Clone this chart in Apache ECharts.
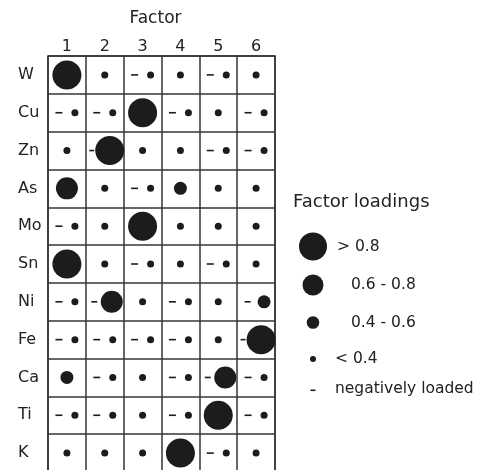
<!DOCTYPE html>
<html>
<head>
<meta charset="utf-8">
<style>
  html, body { margin: 0; padding: 0; background: #fff; }
  #chart { width: 487px; height: 470px; }
</style>
<script src="https://cdn.jsdelivr.net/npm/echarts@6/dist/echarts.min.js"></script>
</head>
<body>
<div id="chart"></div>
<script>
// Factors (columns) and elements (rows)
const factors = ['1', '2', '3', '4', '5', '6'];
const elements = ['W', 'Cu', 'Zn', 'As', 'Mo', 'Sn', 'Ni', 'Fe', 'Ca', 'Ti', 'K'];

// Loading class per factor: 1 = < 0.4, 2 = 0.4-0.6, 3 = 0.6-0.8, 4 = > 0.8
// a negative sign marks a negatively loaded element
const rowW  = [ 4,  1, -1,  1, -1,  1];
const rowCu = [-1, -1,  4, -1,  1, -1];
const rowZn = [ 1, -4,  1,  1, -1, -1];
const rowAs = [ 3,  1, -1,  2,  1,  1];
const rowMo = [-1,  1,  4,  1,  1,  1];
const rowSn = [ 4,  1, -1,  1, -1,  1];
const rowNi = [-1, -3,  1, -1,  1, -2];
const rowFe = [-1, -1, -1, -1,  1, -4];
const rowCa = [ 2, -1,  1, -1, -3, -1];
const rowTi = [-1, -1,  1, -1,  4, -1];
const rowK  = [ 1,  1,  1,  4, -1,  1];
const loadingRows = [rowW, rowCu, rowZn, rowAs, rowMo, rowSn, rowNi, rowFe, rowCa, rowTi, rowK];

// Legend entries
const legendLabels = ['> 0.8', '0.6 - 0.8', '0.4 - 0.6', '< 0.4', 'negatively loaded'];

// Marker styling by class
const dotSize   = {1: 7, 2: 13, 3: 22, 4: 29};
const dotShift  = {1: 8, 2: 8, 3: 7, 4: 5};
const dashShift = {1: -8, 2: -8.5, 3: -10.5, 4: -13};
const dashLen   = {1: 7, 2: 6, 3: 6, 4: 5};

const ink = '#1c1c1c';
const lineCol = '#353535';
const font = 'DejaVu Sans';

const dots = [];
const dashes = [];
loadingRows.forEach((row, i) => {
  row.forEach((c, j) => {
    const k = Math.abs(c);
    const neg = c < 0;
    dots.push({
      value: [factors[j], elements[i], c],
      symbolSize: dotSize[k],
      symbolOffset: [neg ? dotShift[k] : 0, 0]
    });
    if (neg) {
      dashes.push({
        value: [factors[j], elements[i], c],
        symbolSize: [dashLen[k], 1.6],
        symbolOffset: [dashShift[k], 0]
      });
    }
  });
});

const chart = echarts.init(document.getElementById('chart'), null, {renderer: 'canvas'});

const legendX = 313;
const legendRows = [
  {y: 246.5, r: 14,  tx: 337},
  {y: 285,   r: 10.5, tx: 351},
  {y: 322.5, r: 6.3, tx: 351},
  {y: 359,   r: 3,   tx: 335}
];
const graphics = [{
  type: 'text',
  left: 293, top: 193,
  style: {text: 'Factor loadings', font: '18px ' + font, fill: '#222'}
}];
legendRows.forEach((r, idx) => {
  graphics.push({
    type: 'circle',
    shape: {cx: legendX, cy: r.y, r: r.r},
    style: {fill: ink}
  });
  graphics.push({
    type: 'text',
    x: r.tx, y: r.y,
    style: {text: legendLabels[idx], font: '15.5px ' + font, fill: '#222', textVerticalAlign: 'middle'}
  });
});
graphics.push({
  type: 'rect',
  shape: {x: legendX - 2.5, y: 389.5, width: 5, height: 1.6},
  style: {fill: ink}
});
graphics.push({
  type: 'text',
  x: 335, y: 389,
  style: {text: legendLabels[4], font: '15.5px ' + font, fill: '#222', textVerticalAlign: 'middle'}
});

chart.setOption({
  animation: false,
  backgroundColor: '#fff',
  textStyle: {fontFamily: font},
  grid: {
    left: 48, top: 56, width: 227, height: 416,
    outerBoundsMode: 'none',
    containLabel: false,
    show: true, borderColor: lineCol, borderWidth: 1.5, backgroundColor: 'transparent'
  },
  xAxis: {
    type: 'category',
    data: factors,
    position: 'top',
    name: 'Factor',
    nameLocation: 'middle',
    nameGap: 29,
    nameTextStyle: {fontSize: 17, color: '#222', fontFamily: font, padding: [0, 12, 0, 0]},
    axisLine: {show: false},
    axisTick: {show: false},
    axisLabel: {fontSize: 16, color: '#222', margin: 1, fontFamily: font},
    splitLine: {show: true, interval: 0, lineStyle: {color: lineCol, width: 1.5}}
  },
  yAxis: {
    type: 'category',
    data: elements,
    inverse: true,
    axisLine: {show: false},
    axisTick: {show: false},
    axisLabel: {fontSize: 16, color: '#222', margin: 30, align: 'left', fontFamily: font},
    splitLine: {show: true, interval: 0, lineStyle: {color: lineCol, width: 1.5}}
  },
  series: [
    {
      type: 'scatter',
      symbol: 'circle',
      data: dots,
      itemStyle: {color: ink, opacity: 1},
      z: 3
    },
    {
      type: 'scatter',
      symbol: 'rect',
      data: dashes,
      itemStyle: {color: ink, opacity: 1},
      z: 3
    }
  ],
  graphic: graphics
});
</script>
</body>
</html>
